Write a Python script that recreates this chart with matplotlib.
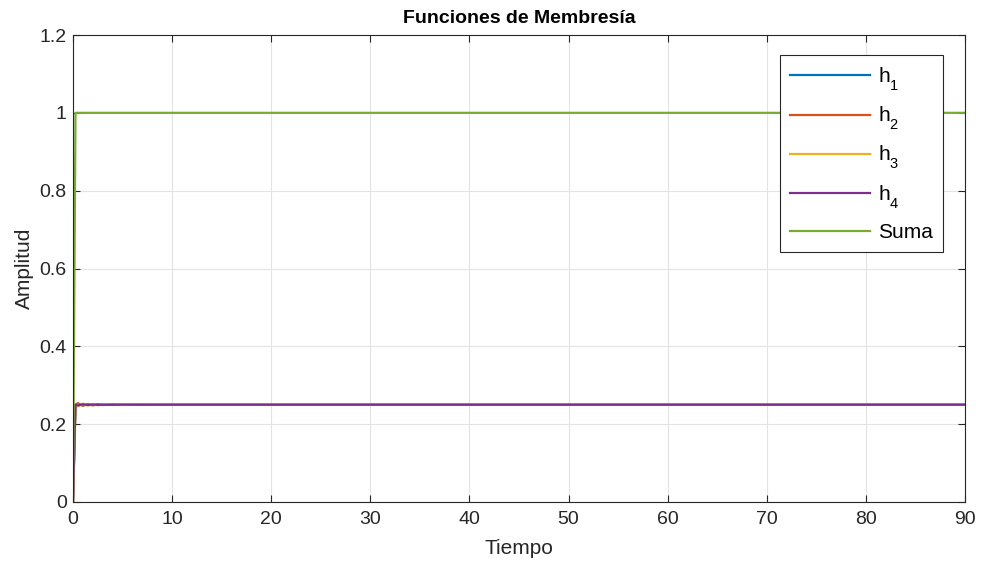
import matplotlib.pyplot as plt
import matplotlib._mathtext as mathtext_internal
import numpy as np

t = [0, 0.25, 0.5, 1.0, 1.5, 2.0, 2.5, 3.0, 4.0, 5.0, 6.0, 8.0, 10.0, 90.0]
h1 = [0, 0.25, 0.252, 0.249, 0.251, 0.2495, 0.2505, 0.25, 0.2503, 0.2498, 0.2501, 0.25, 0.25, 0.25]
h2 = [0, 0.25, 0.254, 0.247, 0.252, 0.248, 0.2515, 0.2492, 0.2505, 0.2497, 0.2502, 0.2499, 0.25, 0.25]
h3 = [0, 0.25, 0.246, 0.253, 0.248, 0.252, 0.2485, 0.2508, 0.2495, 0.2503, 0.2498, 0.2501, 0.25, 0.25]
h4 = [0, 0.25, 0.248, 0.251, 0.249, 0.2505, 0.2495, 0.25, 0.2497, 0.2502, 0.2499, 0.25, 0.25, 0.25]
suma = [0, 1, 1, 1, 1, 1, 1, 1, 1, 1, 1, 1, 1, 1]

colors = ['#0072BD', '#D95319', '#EDB120', '#7E2F8E', '#77AC30']
labels = [r'$\mathregular{h_1}$', r'$\mathregular{h_2}$', r'$\mathregular{h_3}$',
          r'$\mathregular{h_4}$', 'Suma']

plt.rcParams['font.family'] = ['Liberation Sans', 'DejaVu Sans']
plt.rcParams['mathtext.fontset'] = 'custom'
plt.rcParams['mathtext.rm'] = 'Liberation Sans'
# lower the subscripts a bit, like the MATLAB tex interpreter does
try:
    mathtext_internal.FontConstantsBase.sub1 = 0.75
    mathtext_internal.FontConstantsBase.subdrop = 0.75
except AttributeError:
    pass

fig = plt.figure(figsize=(9.82, 5.67), dpi=100)
ax = fig.add_axes([73 / 982, 1 - 502 / 567, (965 - 73) / 982, (502 - 35) / 567])

for y, c, lab in zip([h1, h2, h3, h4, suma], colors, labels):
    ax.plot(t, y, color=c, lw=1.6, label=lab)

ax.set_xlim(0, 90)
ax.set_ylim(0, 1.2)
ax.set_xticks(np.arange(0, 91, 10))
ax.set_yticks([0, 0.2, 0.4, 0.6, 0.8, 1.0, 1.2])
ax.set_yticklabels(['0', '0.2', '0.4', '0.6', '0.8', '1', '1.2'])
ax.grid(True, color='#e3e3e3', lw=0.8)
ax.tick_params(direction='in', top=True, right=True, labelsize=14, length=5,
               color='#262626', labelcolor='#262626')
ax.tick_params(axis='x', pad=6.5)
ax.tick_params(axis='y', pad=4.5)
for s in ax.spines.values():
    s.set_color('#262626')
    s.set_linewidth(0.8)

ax.set_title('Funciones de Membresía', fontsize=14, fontweight='bold', pad=8.5)
ax.set_xlabel('Tiempo', fontsize=15, color='#262626')
ax.set_ylabel('Amplitud', fontsize=15, color='#262626')
ax.xaxis.set_label_coords(0.5, -0.079)
ax.yaxis.set_label_coords(-0.044, 0.5)

leg = ax.legend(loc='upper right', bbox_to_anchor=(0.9753, 0.957), borderaxespad=0,
                fontsize=15, fancybox=False, framealpha=1, edgecolor='#262626',
                handlelength=3.84, handletextpad=0.35, labelspacing=0.58, borderpad=0.5)
leg.get_frame().set_linewidth(0.8)

fig.savefig('out.png', dpi=100)
